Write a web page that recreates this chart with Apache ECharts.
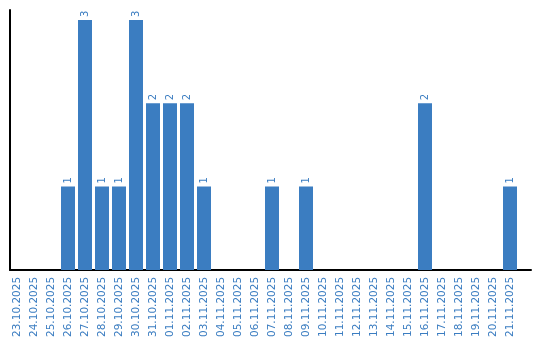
<!DOCTYPE html>
<html><head><meta charset="utf-8">
<script src="https://cdn.jsdelivr.net/npm/echarts@6/dist/echarts.min.js"></script>
<style>html,body{margin:0;padding:0;background:#fff}#c{width:540px;height:340px}</style>
</head><body><div id="c"></div>
<script>
const categories = ["23.10.2025","24.10.2025","25.10.2025","26.10.2025","27.10.2025","28.10.2025","29.10.2025","30.10.2025","31.10.2025","01.11.2025","02.11.2025","03.11.2025","04.11.2025","05.11.2025","06.11.2025","07.11.2025","08.11.2025","09.11.2025","10.11.2025","11.11.2025","12.11.2025","13.11.2025","14.11.2025","15.11.2025","16.11.2025","17.11.2025","18.11.2025","19.11.2025","20.11.2025","21.11.2025"];
const values = [0,0,0,1,3,1,1,3,2,2,2,1,0,0,0,1,0,1,0,0,0,0,0,0,2,0,0,0,0,1];
const blue = '#3b7dc1';
const chart = echarts.init(document.getElementById('c'), null, {renderer:'canvas'});
chart.setOption({
  animation:false,
  grid:[
    {left:8.5,right:21.5,top:10,bottom:70,containLabel:false},
    {left:10,right:9,top:10,bottom:70,containLabel:false}
  ],
  xAxis:[
    {type:'category',gridIndex:0,data:categories,
      axisLine:{show:false},axisTick:{show:false},
      axisLabel:{rotate:90,interval:0,color:blue,fontFamily:'DejaVu Sans',fontSize:10.5,margin:7}},
    {type:'value',gridIndex:1,min:0,max:1,
      axisLine:{show:true,onZero:false,lineStyle:{color:'#000',width:2}},
      axisTick:{show:false},axisLabel:{show:false},splitLine:{show:false}}
  ],
  yAxis:[
    {type:'value',gridIndex:0,min:0,max:3.12,
      axisLine:{show:false},axisTick:{show:false},axisLabel:{show:false},splitLine:{show:false}},
    {type:'value',gridIndex:1,min:0,max:1,
      axisLine:{show:true,lineStyle:{color:'#000',width:2}},
      axisTick:{show:false},axisLabel:{show:false},splitLine:{show:false}}
  ],
  series:[{type:'bar',xAxisIndex:0,yAxisIndex:0,data:values,barWidth:14,
    itemStyle:{color:blue},
    label:{show:true,position:'top',rotate:90,align:'left',verticalAlign:'middle',distance:3,color:blue,fontFamily:'DejaVu Sans',fontSize:10,
      formatter:p=>p.value>0?String(p.value):''}}]
});
</script></body></html>
